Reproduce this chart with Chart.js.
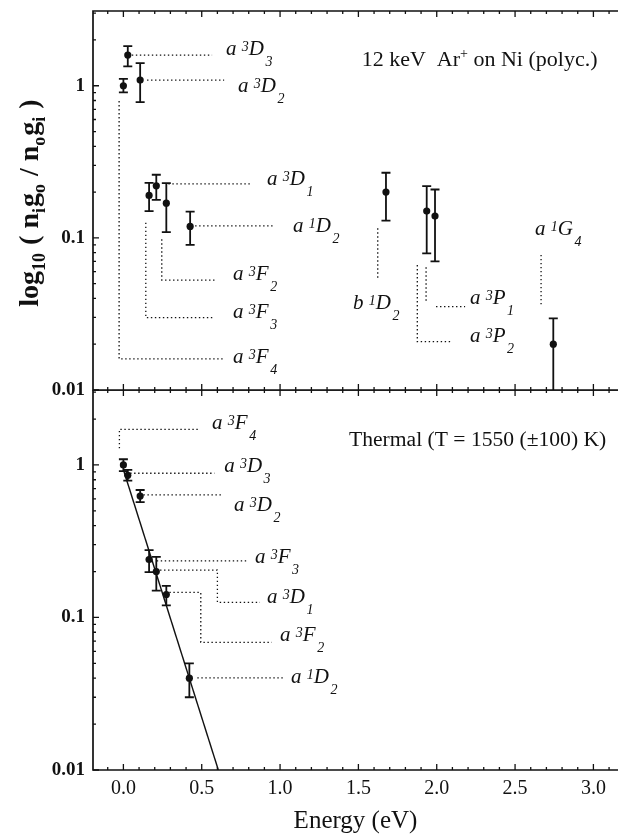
<!DOCTYPE html>
<html>
<head>
<meta charset="utf-8">
<title>Ni level populations</title>
<script src="https://cdn.jsdelivr.net/npm/chart.js@4.4.0/dist/chart.umd.min.js"></script>
<style>
  html, body { margin: 0; padding: 0; background: #fff; }
  #wrap { position: relative; width: 618px; height: 836px; overflow: hidden; background: #fff; }
  #topChart { position: absolute; left: 0; top: 0; }
  #bottomChart { position: absolute; left: 0; top: 390px; }
</style>
</head>
<body>
<div id="wrap">
  <canvas id="topChart" width="618" height="404"></canvas>
  <canvas id="bottomChart" width="618" height="446"></canvas>
</div>
<script>
// Axis ranges and tick labels
const xMin = -0.194, xMax = 3.157;
const yMin = 0.01, yMax = 3.1;
const xTickValues = [0, 0.5, 1, 1.5, 2, 2.5, 3];
const xTickLabels = ['0.0', '0.5', '1.0', '1.5', '2.0', '2.5', '3.0'];
const yTickValues = [0.01, 0.1, 1];
const yTickLabels = ['0.01', '0.1', '1'];

// Top panel: 12 keV Ar+ on Ni (polyc.)
const sputterEnergy  = [0.0, 0.028, 0.107, 0.164, 0.21, 0.274, 0.426, 1.676, 1.936, 1.989, 2.744];
const sputterRatio   = [1.0, 1.59, 1.09, 0.19, 0.22, 0.169, 0.119, 0.20, 0.15, 0.139, 0.020];
const sputterErrLow  = [0.905, 1.34, 0.78, 0.15, 0.178, 0.109, 0.090, 0.13, 0.079, 0.070, 0.005];
const sputterErrHigh = [1.11, 1.82, 1.41, 0.23, 0.26, 0.229, 0.149, 0.268, 0.219, 0.208, 0.0296];

// term labels of the top panel (left edge / baseline in data units)
const sputterTerms = ['a 3D3', 'a 3D2', 'a 3D1', 'a 1D2', 'a 3F2', 'a 3F3', 'a 3F4', 'b 1D2', 'a 3P1', 'a 3P2', 'a 1G4'];
const sputterTermX = [0.655, 0.732, 0.917, 1.083, 0.700, 0.700, 0.700, 1.466, 2.2125, 2.2125, 2.627];
const sputterTermY = [1.60, 0.909, 0.2225, 0.1093, 0.0528, 0.0296, 0.0151, 0.0341, 0.0367, 0.0206, 0.1044];

// dotted leader lines of the top panel
const sputterLeaders = [
  [[0.054, 1.59], [0.566, 1.59]],
  [[0.151, 1.09], [0.643, 1.09]],
  [[0.287, 0.2265], [0.813, 0.2265]],
  [[0.458, 0.120], [0.968, 0.120]],
  [[0.245, 0.0978], [0.245, 0.0528], [0.596, 0.0528]],
  [[0.143, 0.1258], [0.143, 0.0299], [0.579, 0.0299]],
  [[-0.0274, 0.793], [-0.0274, 0.016], [0.643, 0.016]],
  [[1.6235, 0.1155], [1.6235, 0.0542]],
  [[1.932, 0.064], [1.932, 0.0386]],
  [[1.9955, 0.0353], [2.181, 0.0353]],
  [[1.876, 0.0663], [1.876, 0.0208], [2.096, 0.0208]],
  [[2.666, 0.0772], [2.666, 0.0358]]
];

// Bottom panel: thermal
const thermalEnergy  = [0.0, 0.028, 0.107, 0.164, 0.21, 0.274, 0.421];
const thermalRatio   = [1.0, 0.855, 0.625, 0.24, 0.20, 0.1415, 0.040];
const thermalErrLow  = [0.91, 0.79, 0.571, 0.198, 0.15, 0.12, 0.030];
const thermalErrHigh = [1.09, 0.927, 0.685, 0.276, 0.25, 0.161, 0.050];

// Boltzmann fit, T = 1550 K
const thermalFitEnergy = [0.0, 0.606];
const thermalFitRatio  = [0.93, 0.01];

const thermalTerms = ['a 3F4', 'a 3D3', 'a 3D2', 'a 3F3', 'a 3D1', 'a 3F2', 'a 1D2'];
const thermalTermX = [0.566, 0.643, 0.706, 0.840, 0.917, 1.0, 1.070];
const thermalTermY = [1.72, 0.90, 0.50, 0.2284, 0.125, 0.0705, 0.0374];

const thermalLeaders = [
  [[-0.0255, 1.285], [-0.0255, 1.713], [0.4786, 1.713]],
  [[0.043, 0.882], [0.581, 0.882]],
  [[0.128, 0.637], [0.638, 0.637]],
  [[0.213, 0.235], [0.798, 0.235]],
  [[0.234, 0.2046], [0.600, 0.2046], [0.600, 0.1256], [0.872, 0.1256]],
  [[0.2935, 0.146], [0.494, 0.146], [0.494, 0.0687], [0.947, 0.0687]],
  [[0.472, 0.0402], [1.032, 0.0402]]
];

// Panel captions
const sputterCaption = ['12 keV  Ar', '+', ' on Ni (polyc.)'];
const sputterCaptionAt = [1.521, 1.347];
const thermalCaption = ['Thermal (T = 1550 (\u00b1100) K)', '', ''];
const thermalCaptionAt = [1.440, 1.33];

const INK = '#111';
const SERIF = '"Liberation Serif", "DejaVu Serif", serif';

// Build leader datasets
function leaderSets(leaders) {
  return leaders.map(pts => ({
    data: pts.map(p => ({ x: p[0], y: p[1] })),
    showLine: true,
    borderColor: INK,
    borderWidth: 1.3,
    borderDash: [1.4, 2.6],
    pointRadius: 0,
    fill: false
  }));
}

// Draw a spectroscopic term such as "a 3D2"
function drawTerm(ctx, x, y, term) {
  const m = term.match(/^(\w) (\d)(\w)(\d)$/);
  ctx.fillStyle = INK;
  ctx.textBaseline = 'alphabetic';
  ctx.textAlign = 'left';
  ctx.font = 'italic 21px ' + SERIF;
  ctx.fillText(m[1], x, y);
  let cx = x + ctx.measureText(m[1] + ' ').width;
  ctx.font = 'italic 14px ' + SERIF;
  ctx.fillText(m[2], cx, y - 4);
  cx += ctx.measureText(m[2]).width;
  ctx.font = 'italic 21px ' + SERIF;
  ctx.fillText(m[3], cx, y);
  cx += ctx.measureText(m[3]).width + 1.5;
  ctx.font = 'italic 14px ' + SERIF;
  ctx.fillText(m[4], cx, y + 11);
}

// Error bars with caps
const errorBars = {
  id: 'errorBars',
  afterDatasetsDraw(chart) {
    const { ctx, chartArea: a, scales: { x, y } } = chart;
    ctx.save();
    ctx.beginPath();
    ctx.rect(a.left, a.top, a.right - a.left, a.bottom - a.top);
    ctx.clip();
    ctx.strokeStyle = INK;
    ctx.lineWidth = 1.8;
    chart.data.datasets.forEach(ds => {
      if (!ds.errLow) return;
      ds.data.forEach((p, i) => {
        const px = x.getPixelForValue(p.x);
        const lo = y.getPixelForValue(ds.errLow[i]);
        const hi = y.getPixelForValue(ds.errHigh[i]);
        ctx.beginPath();
        ctx.moveTo(px, lo); ctx.lineTo(px, hi);
        ctx.moveTo(px - 4.5, lo); ctx.lineTo(px + 4.5, lo);
        ctx.moveTo(px - 4.5, hi); ctx.lineTo(px + 4.5, hi);
        ctx.stroke();
      });
    });
    ctx.restore();
  }
};

// Frame with inward ticks
const frame = {
  id: 'frame',
  afterDraw(chart) {
    const { ctx, chartArea: a, scales: { x, y } } = chart;
    ctx.save();
    ctx.strokeStyle = INK;
    ctx.lineWidth = 1.7;
    ctx.beginPath();
    ctx.moveTo(a.right, a.top);
    ctx.lineTo(a.left, a.top);
    ctx.lineTo(a.left, a.bottom);
    ctx.lineTo(a.right, a.bottom);
    ctx.stroke();

    ctx.lineWidth = 1.3;
    ctx.beginPath();
    for (let k = -1; k <= 31; k++) {
      const v = k / 10;
      if (v < xMin || v > xMax) continue;
      const px = x.getPixelForValue(v);
      const len = k % 5 === 0 ? 6 : 3;
      ctx.moveTo(px, a.top); ctx.lineTo(px, a.top + len);
      ctx.moveTo(px, a.bottom); ctx.lineTo(px, a.bottom - len);
    }
    [0.01, 0.1, 1].forEach(dec => {
      for (let m = 1; m <= 9; m++) {
        const v = m * dec;
        if (v > yMax) break;
        const py = y.getPixelForValue(v);
        const len = m === 1 ? 6 : 3;
        ctx.moveTo(a.left, py); ctx.lineTo(a.left + len, py);
      }
    });
    ctx.stroke();
    ctx.restore();
  }
};

// Term labels and captions
function labelPlugin(terms, tx, ty, caption, captionAt, captionSize) {
  return {
    id: 'labels',
    afterDraw(chart) {
      const { ctx, scales: { x, y } } = chart;
      ctx.save();
      terms.forEach((t, i) => {
        drawTerm(ctx, x.getPixelForValue(tx[i]), y.getPixelForValue(ty[i]), t);
      });
      let cx = x.getPixelForValue(captionAt[0]);
      const cy = y.getPixelForValue(captionAt[1]);
      ctx.fillStyle = INK;
      ctx.textBaseline = 'alphabetic';
      ctx.textAlign = 'left';
      ctx.font = captionSize + 'px ' + SERIF;
      ctx.fillText(caption[0], cx, cy);
      cx += ctx.measureText(caption[0]).width;
      ctx.font = '14px ' + SERIF;
      ctx.fillText(caption[1], cx, cy - 8);
      cx += ctx.measureText(caption[1]).width;
      ctx.font = captionSize + 'px ' + SERIF;
      ctx.fillText(caption[2], cx, cy);
      ctx.restore();
    }
  };
}

// Y axis title with subscripts (top panel)
const yTitle = {
  id: 'yTitle',
  afterDraw(chart) {
    const { ctx } = chart;
    const parts = [['log', 0], ['10', 1], [' ( n', 0], ['i', 1], ['g', 0], ['o', 1],
                   [' / n', 0], ['o', 1], ['g', 0], ['i', 1], [' )', 0]];
    const mainFont = 'bold 28px ' + SERIF;
    const subFont = 'bold 18px ' + SERIF;
    ctx.save();
    let total = 0;
    parts.forEach(p => { ctx.font = p[1] ? subFont : mainFont; total += ctx.measureText(p[0]).width + (p[1] ? 1 : 0); });
    ctx.translate(38, 203);
    ctx.rotate(-Math.PI / 2);
    ctx.fillStyle = INK;
    ctx.textBaseline = 'alphabetic';
    ctx.textAlign = 'left';
    let u = -total / 2;
    parts.forEach(p => {
      ctx.font = p[1] ? subFont : mainFont;
      ctx.fillText(p[0], u, p[1] ? 7 : 0);
      u += ctx.measureText(p[0]).width + (p[1] ? 1 : 0);
    });
    ctx.restore();
  }
};

function yScale() {
  return {
    type: 'logarithmic',
    min: yMin,
    max: yMax,
    afterBuildTicks: s => { s.ticks = yTickValues.map(v => ({ value: v })); },
    afterFit: s => { s.width = 93; s.paddingTop = 0; s.paddingBottom = 0; },
    ticks: {
      callback: (v, i) => yTickLabels[i],
      font: { family: SERIF, size: 19, weight: 'bold' },
      color: INK,
      padding: 8
    },
    grid: { display: false, drawTicks: false },
    border: { display: false }
  };
}

function pointSet(energy, ratio, lo, hi) {
  return {
    data: energy.map((e, i) => ({ x: e, y: ratio[i] })),
    errLow: lo,
    errHigh: hi,
    pointRadius: 3.6,
    pointBackgroundColor: INK,
    pointBorderWidth: 0,
    showLine: false
  };
}

Chart.defaults.animation = false;

const topChart = new Chart(document.getElementById('topChart'), {
  type: 'scatter',
  data: {
    datasets: [
      ...leaderSets(sputterLeaders),
      pointSet(sputterEnergy, sputterRatio, sputterErrLow, sputterErrHigh)
    ]
  },
  options: {
    responsive: false,
    animation: false,
    layout: { autoPadding: false, padding: { top: 11, bottom: 14, left: 0, right: 0 } },
    plugins: { legend: { display: false }, tooltip: { enabled: false } },
    scales: {
      x: { type: 'linear', min: xMin, max: xMax, display: false },
      y: yScale()
    }
  },
  plugins: [errorBars, frame, labelPlugin(sputterTerms, sputterTermX, sputterTermY, sputterCaption, sputterCaptionAt, 22), yTitle]
});

const bottomChart = new Chart(document.getElementById('bottomChart'), {
  type: 'scatter',
  data: {
    datasets: [
      ...leaderSets(thermalLeaders),
      {
        data: thermalFitEnergy.map((e, i) => ({ x: e, y: thermalFitRatio[i] })),
        showLine: true,
        borderColor: INK,
        borderWidth: 1.4,
        pointRadius: 0,
        fill: false
      },
      pointSet(thermalEnergy, thermalRatio, thermalErrLow, thermalErrHigh)
    ]
  },
  options: {
    responsive: false,
    animation: false,
    layout: { autoPadding: false, padding: 0 },
    plugins: { legend: { display: false }, tooltip: { enabled: false } },
    scales: {
      x: {
        type: 'linear',
        min: xMin,
        max: xMax,
        afterBuildTicks: s => { s.ticks = xTickValues.map(v => ({ value: v })); },
        afterFit: s => { s.height = 66; s.paddingLeft = 0; s.paddingRight = 0; },
        ticks: {
          callback: (v, i) => xTickLabels[i],
          font: { family: SERIF, size: 20 },
          color: INK,
          padding: 7,
          maxRotation: 0,
          autoSkip: false
        },
        grid: { display: false, drawTicks: false },
        border: { display: false },
        title: {
          display: true,
          text: 'Energy (eV)',
          font: { family: SERIF, size: 25 },
          color: INK,
          padding: { top: 0, bottom: 0 }
        }
      },
      y: yScale()
    }
  },
  plugins: [errorBars, frame, labelPlugin(thermalTerms, thermalTermX, thermalTermY, thermalCaption, thermalCaptionAt, 21.6)]
});
</script>
</body>
</html>
